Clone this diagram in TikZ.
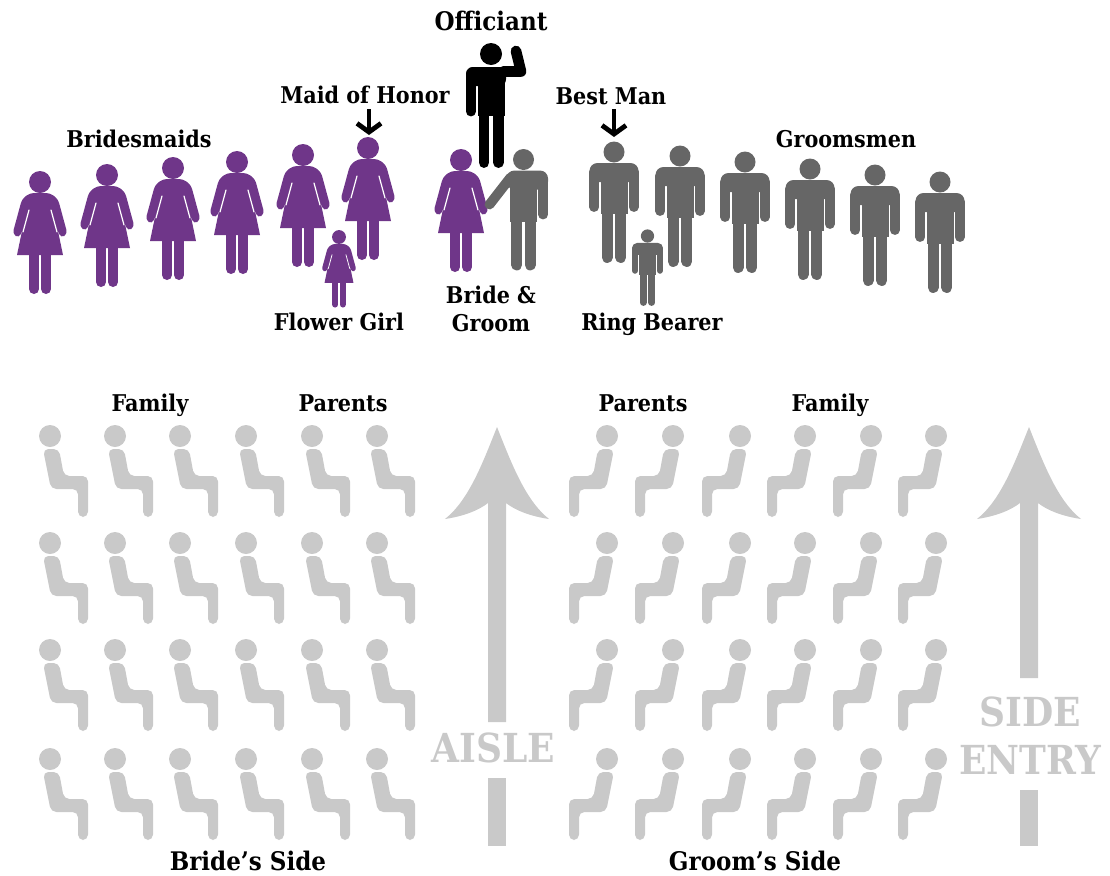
\documentclass[tikz,border=0pt]{standalone}
\usepackage{fontspec}
\setmainfont{DejaVu Serif Condensed}
\usetikzlibrary{arrows.meta}
\definecolor{brideviolet}{HTML}{6F3689}
\definecolor{groomgray}{HTML}{666666}
\definecolor{seatgray}{HTML}{C9C9C9}
\tikzset{
    lbl/.style={font=\bfseries\fontsize{17.3}{21}\selectfont, inner sep=0pt, align=center, anchor=base},
    toplbl/.style={lbl, font=\bfseries\fontsize{19.2}{21}\selectfont},
    biglbl/.style={font=\bfseries\fontsize{30}{36}\selectfont, inner sep=0pt, anchor=base, text=seatgray},
    pointer/.style={line width=3.6pt, -{Straight Barb[length=6.5pt,width=18pt]}},
}
\newcommand{\womanfig}[4]{
\begin{scope}[shift={(#1,#2)},scale=#3,line cap=round]
    \fill[#4](0,0) circle(11);
    \fill[#4](-13,25)--(13,25)--(23,73)--(-23,73)--cycle;
    \fill[#4,rounded corners=#3*3pt](-10,11)--(10,11)--(18,17)--(27.5,52)--(21,56)--(13,38)--(-13,38)--(-21,56)--(-27.5,52)--(-18,17)--cycle;
    \foreach \x in {-6,6}
    {
        \draw[#4,line width=#3*7.5pt](\x,70)--(\x,107);
    }
    \draw[white,line width=#3*.9pt](11,28)--(17,50);
    \draw[white,line width=#3*.9pt](-11,28)--(-17,50);
\end{scope}
}
\newcommand{\manfig}[6]{
\begin{scope}[shift={(#1,#2)},scale=#3,line cap=round]
    \fill[#4](0,0) circle(10.5);
    \fill[#4,rounded corners=#3*6pt](#5,11) rectangle (24.5,30);
    \fill[#4](-13.5,20) rectangle (13.5,62);
    \draw[#4,line width=#3*7.4pt](19.7,20)--(19.7,55);
    \draw[#4,line width=#3*7.4pt]#6;
    \foreach \x in {-6.8,6.8}
    {
        \draw[#4,line width=#3*8.2pt](\x,60)--(\x,105.5);
    }
\end{scope}
}
\newcommand{\seatfig}[3]{
\begin{scope}[shift={(#1,#2)},xscale=#3]
    \fill[seatgray](0,0) circle(11);
    \fill[seatgray,rounded corners=4pt](-7,13)--(9,13)--(14,40)--(38,40)--(38,81)--(28,81)--(28,53)--(1,53)--cycle;
\end{scope}
}
\newcommand{\aislearrow}[2]{
\begin{scope}[shift={(#1,0)}]
    \fill[seatgray](0,427) .. controls (-14,462) and (-28,500) .. (-52,519) .. controls (-32,516) and (-18,510) .. (-9,503)--(-9,#2)--(9,#2)--(9,503) .. controls (18,510) and (32,516) .. (52,519) .. controls (28,500) and (14,462) .. (0,427)--cycle;
\end{scope}
}
\begin{document}
\begin{tikzpicture}[x=.75pt,y=-.75pt]
\useasboundingbox (0,0) rectangle (1110,875);
\draw[seatgray,line width=13.5pt](497,778)--(497,846);
\draw[seatgray,line width=13.5pt](1029,790)--(1029,846);
\aislearrow{497}{722}
\aislearrow{1029}{678}
\fill[black](491,54) circle(11);
\fill[black,rounded corners=5pt](466,67) rectangle (506,86);
\fill[black](478,75) rectangle (505,116);
\draw[black,line width=7.4pt,line cap=round](470.9,75)--(470.9,111.5);
\foreach \x in {484,498.5}
{
    \draw[black,line width=8.2pt,line cap=round](\x,114)--(\x,162.5);
}
\draw[black,line width=8pt,line cap=round,line join=round](503,71.5)--(521,71.5)--(516,51);
\foreach \x/\y in {40/182,107/175,173/168,237/162,303/155,368/148,461/160}
{
    \womanfig{\x}{\y}{1}{brideviolet}
}
\womanfig{339}{237}{.63}{brideviolet}
\foreach \x/\y in {614/152,680/156,745/162,810/169,875/175,940/182}
{
    \manfig{\x}{\y}{1}{groomgray}{-24.5}{(-19.7,20)--(-19.7,55)}
}
\manfig{523.5}{159.5}{1}{groomgray}{-17}{(-13,18)--(-34,45)}
\manfig{647.5}{236}{.63}{groomgray}{-24.5}{(-19.7,20)--(-19.7,55)}
\foreach \y in {436,543,650,759}
{
    \foreach \x in {50,115,180,246,312,377}
    {
        \seatfig{\x}{\y}{1}
    }
    \foreach \x in {607,673,740,805,871,936}
    {
        \seatfig{\x}{\y}{-1}
    }
}
\node[toplbl] (officiant) at (491,30) {Officiant};
\node[lbl] (maid) at (365,103) {Maid of Honor};
\node[lbl] (bridesmaids) at (139,147) {Bridesmaids};
\node[lbl] (flowergirl) at (339,330) {Flower Girl};
\node[lbl] (bridegroom) at (491,331) {Bride \&\\Groom};
\node[lbl] (bestman) at (611,104) {Best Man};
\node[lbl] (ringbearer) at (652,330) {Ring Bearer};
\node[lbl] (groomsmen) at (846,147) {Groomsmen};
\node[lbl] (family1) at (150,411) {Family};
\node[lbl] (parents1) at (343,411) {Parents};
\node[lbl] (parents2) at (643,411) {Parents};
\node[lbl] (family2) at (830,411) {Family};
\node[toplbl] (brideside) at (248,870) {Bride’s Side};
\node[toplbl] (groomside) at (755,870) {Groom’s Side};
\node[biglbl] (aisle) at (493,762) {AISLE};
\node[biglbl] (side) at (1030,726) {SIDE};
\node[biglbl] (entry) at (1030,774) {ENTRY};
\coordinate (maidtail) at (369,109);
\coordinate (maidhead) at (369,135);
\coordinate (besttail) at (614,109);
\coordinate (besthead) at (614,137);
\draw[pointer](maidtail)--(maidhead);
\draw[pointer](besttail)--(besthead);
\end{tikzpicture}
\end{document}
